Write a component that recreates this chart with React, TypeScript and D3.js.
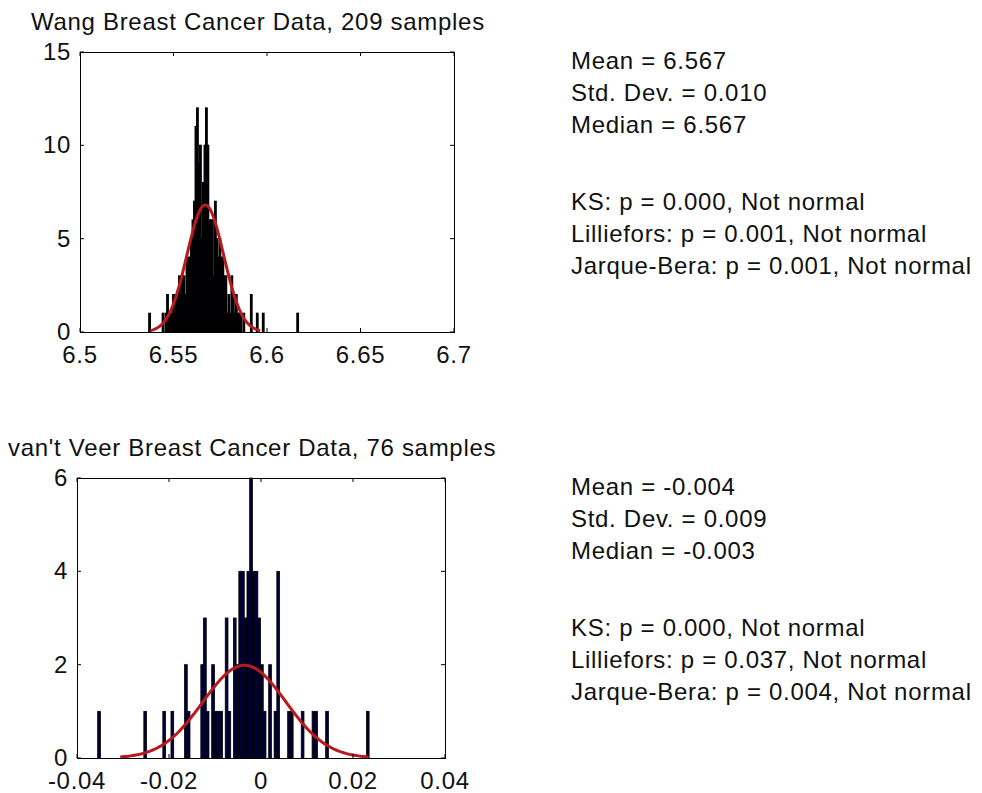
import React from 'react';
import * as d3 from 'd3';

// ---------- Wang data (top panel) ----------
const wangTitle = 'Wang Breast Cancer Data, 209 samples';
const wangCounts = [
  1, 0, 0, 0, 0, 0, 0, 0, 0, 1,
  0, 1, 2, 1, 1, 1, 2, 1, 2, 2,
  3, 2, 3, 3, 2, 4, 4, 4, 5, 6,
  7, 11, 12, 9, 10, 5, 8, 10, 12, 10,
  6, 6, 6, 3, 7, 5, 4, 5, 4, 4,
  3, 3, 1, 2, 1, 3, 2, 1, 2, 1,
  1, 1, 0, 1, 0, 0, 0, 0, 2, 0,
  0, 0, 1, 0, 0, 0, 1, 0, 0, 0,
  0, 0, 0, 0, 0, 0, 0, 0, 0, 0,
  0, 0, 0, 0, 0, 0, 0, 0, 0, 1,
];
const wangBinStart = 6.5368;
const wangBinWidth = 0.0008;
const wangN = 209;
const wangMean = 6.567;
const wangSd = 0.0098;
const wangXDomain = [6.5, 6.7];
const wangYDomain = [0, 15];
const wangXTicks = [6.5, 6.55, 6.6, 6.65, 6.7];
const wangXTickLabels = ['6.5', '6.55', '6.6', '6.65', '6.7'];
const wangYTicks = [0, 5, 10, 15];
const wangYTickLabels = ['0', '5', '10', '15'];
const wangStats = ['Mean = 6.567', 'Std. Dev. = 0.010', 'Median = 6.567'];
const wangTests = [
  'KS: p = 0.000, Not normal',
  'Lilliefors: p = 0.001, Not normal',
  'Jarque-Bera: p = 0.001, Not normal',
];

// ---------- van't Veer data (bottom panel) ----------
const vantTitle = "van't Veer Breast Cancer Data, 76 samples";
const vantCounts = [
  1, 0, 0, 0, 0, 0, 0, 0, 0, 0,
  0, 0, 0, 0, 0, 0, 0, 1, 0, 0,
  0, 0, 0, 0, 1, 0, 0, 1, 0, 0,
  0, 0, 2, 1, 0, 0, 0, 0, 2, 3,
  1, 0, 2, 1, 1, 1, 0, 3, 1, 0,
  3, 2, 4, 4, 3, 4, 6, 4, 4, 3,
  2, 1, 0, 2, 0, 1, 4, 0, 0, 0,
  1, 1, 0, 0, 0, 1, 0, 0, 0, 1,
  1, 0, 0, 0, 1, 0, 0, 0, 0, 0,
  0, 0, 0, 0, 0, 0, 0, 0, 0, 1,
];
const vantBinStart = -0.0355;
const vantBinWidth = 0.00059;
const vantN = 76;
const vantMean = -0.0036;
const vantSd = 0.009;
const vantXDomain = [-0.04, 0.04];
const vantYDomain = [0, 6];
const vantXTicks = [-0.04, -0.02, 0, 0.02, 0.04];
const vantXTickLabels = ['-0.04', '-0.02', '0', '0.02', '0.04'];
const vantYTicks = [0, 2, 4, 6];
const vantYTickLabels = ['0', '2', '4', '6'];
const vantStats = ['Mean = -0.004', 'Std. Dev. = 0.009', 'Median = -0.003'];
const vantTests = [
  'KS: p = 0.000, Not normal',
  'Lilliefors: p = 0.037, Not normal',
  'Jarque-Bera: p = 0.004, Not normal',
];

const FONT = '"Liberation Sans", Arial, sans-serif';
const TEXT_STYLE: React.CSSProperties = { letterSpacing: '0.7px' };

type PanelProps = {
  title: string;
  titleX: number;
  titleY: number;
  counts: number[];
  binStart: number;
  binWidth: number;
  n: number;
  mean: number;
  sd: number;
  xDomain: number[];
  yDomain: number[];
  xTicks: number[];
  xTickLabels: string[];
  yTicks: number[];
  yTickLabels: string[];
  left: number;
  top: number;
  width: number;
  height: number;
  stats: string[];
  tests: string[];
  statsX: number;
  statsY: number;
  barFill: string;
  barStroke: number;
};

function Panel(p: PanelProps) {
  const x = d3.scaleLinear().domain(p.xDomain).range([p.left, p.left + p.width]);
  const y = d3.scaleLinear().domain(p.yDomain).range([p.top + p.height, p.top]);
  const bottom = p.top + p.height;
  const right = p.left + p.width;

  const peak = (p.n * p.binWidth) / (p.sd * Math.sqrt(2 * Math.PI));
  const pts = d3.range(0, 121).map((k) => {
    const v = p.mean - 3 * p.sd + (k * 6 * p.sd) / 120;
    const z = (v - p.mean) / p.sd;
    return [v, peak * Math.exp(-0.5 * z * z)] as [number, number];
  });
  const line = d3
    .line<[number, number]>()
    .x((d) => x(d[0]))
    .y((d) => y(d[1]))
    .curve(d3.curveLinear);

  const tickLen = 4;
  const lineGap = 31.8;

  return (
    <g>
      <text x={p.titleX} y={p.titleY} fontSize={24} fontFamily={FONT} fill="#111" style={TEXT_STYLE}>
        {p.title}
      </text>
      <rect x={p.left} y={p.top} width={p.width} height={p.height} fill="#fff" />
      {p.counts.map((c, i) =>
        c > 0 ? (
          <rect
            key={i}
            x={x(p.binStart + i * p.binWidth)}
            y={y(c)}
            width={x(p.binStart + (i + 1) * p.binWidth) - x(p.binStart + i * p.binWidth)}
            height={y(0) - y(c)}
            fill={p.barFill}
            stroke="#000"
            strokeWidth={p.barStroke}
          />
        ) : null
      )}
      <path d={line(pts) || ''} fill="none" stroke="#b81a1e" strokeWidth={3} strokeLinejoin="round" />
      <rect
        x={p.left + 0.5}
        y={p.top + 0.5}
        width={p.width}
        height={p.height}
        fill="none"
        stroke="#000"
        strokeWidth={1}
      />
      {p.xTicks.map((t, i) => (
        <g key={'xt' + i}>
          <line x1={x(t)} x2={x(t)} y1={bottom} y2={bottom - tickLen} stroke="#000" strokeWidth={1} />
          <line x1={x(t)} x2={x(t)} y1={p.top} y2={p.top + tickLen} stroke="#000" strokeWidth={1} />
          <text
            x={x(t)}
            y={bottom + 31}
            textAnchor="middle"
            fontSize={24}
            fontFamily={FONT}
            fill="#111"
            style={TEXT_STYLE}
          >
            {p.xTickLabels[i]}
          </text>
        </g>
      ))}
      {p.yTicks.map((t, i) => (
        <g key={'yt' + i}>
          <line x1={p.left} x2={p.left + tickLen} y1={y(t)} y2={y(t)} stroke="#000" strokeWidth={1} />
          <line x1={right} x2={right - tickLen} y1={y(t)} y2={y(t)} stroke="#000" strokeWidth={1} />
          <text
            x={p.left - 9}
            y={y(t) + 8}
            textAnchor="end"
            fontSize={24}
            fontFamily={FONT}
            fill="#111"
            style={TEXT_STYLE}
          >
            {p.yTickLabels[i]}
          </text>
        </g>
      ))}
      {p.stats.map((s, i) => (
        <text
          key={'s' + i}
          x={p.statsX}
          y={p.statsY + i * lineGap}
          fontSize={24}
          fontFamily={FONT}
          fill="#111"
          style={TEXT_STYLE}
        >
          {s}
        </text>
      ))}
      {p.tests.map((s, i) => (
        <text
          key={'t' + i}
          x={p.statsX}
          y={p.statsY + 141 + i * lineGap}
          fontSize={24}
          fontFamily={FONT}
          fill="#111"
          style={TEXT_STYLE}
        >
          {s}
        </text>
      ))}
    </g>
  );
}

export default function App() {
  return (
    <svg
      width={982}
      height={793}
      style={{ position: 'absolute', left: 0, top: 0, background: '#fff' }}
      xmlns="http://www.w3.org/2000/svg"
    >
      <rect x={0} y={0} width={982} height={793} fill="#fff" />
      <Panel
        title={wangTitle}
        titleX={31}
        titleY={30}
        counts={wangCounts}
        binStart={wangBinStart}
        binWidth={wangBinWidth}
        n={wangN}
        mean={wangMean}
        sd={wangSd}
        xDomain={wangXDomain}
        yDomain={wangYDomain}
        xTicks={wangXTicks}
        xTickLabels={wangXTickLabels}
        yTicks={wangYTicks}
        yTickLabels={wangYTickLabels}
        left={80}
        top={52}
        width={374}
        height={280}
        stats={wangStats}
        tests={wangTests}
        statsX={571}
        statsY={69}
        barFill="#000010"
        barStroke={1.3}
      />
      <Panel
        title={vantTitle}
        titleX={8}
        titleY={456}
        counts={vantCounts}
        binStart={vantBinStart}
        binWidth={vantBinWidth}
        n={vantN}
        mean={vantMean}
        sd={vantSd}
        xDomain={vantXDomain}
        yDomain={vantYDomain}
        xTicks={vantXTicks}
        xTickLabels={vantXTickLabels}
        yTicks={vantYTicks}
        yTickLabels={vantYTickLabels}
        left={77}
        top={478}
        width={368}
        height={280}
        stats={vantStats}
        tests={vantTests}
        statsX={571}
        statsY={495}
        barFill="#000038"
        barStroke={0.8}
      />
    </svg>
  );
}
